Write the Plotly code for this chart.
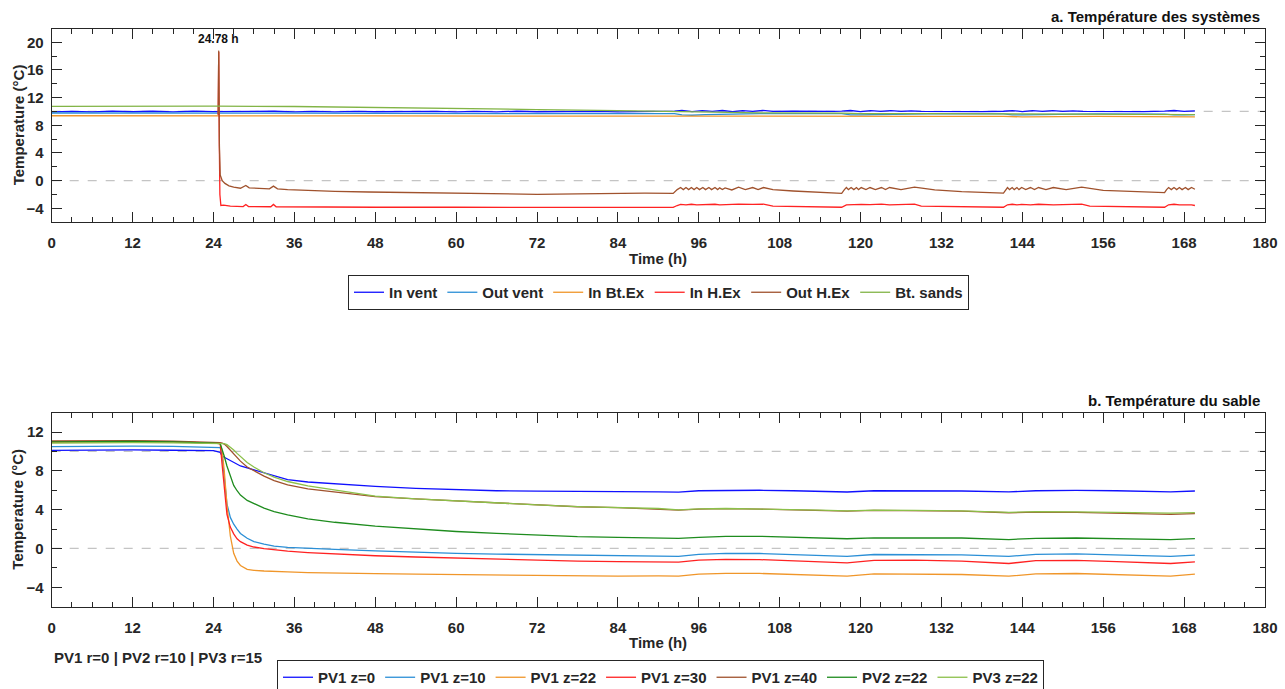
import plotly.graph_objects as go

# ---------------- Panel a: system temperatures ----------------
t_in_vent = [0, 3, 6, 9, 12, 15, 18, 21, 24, 27, 30, 33, 36, 39, 42, 45, 48, 51, 54, 57, 60, 63, 66, 69, 72, 75, 78, 81, 84, 87, 90,
             92.4, 93.5, 95, 96.5, 98, 99.5, 101, 102.5, 104, 105.5, 107,
             110, 113, 116, 117.2,
             118.5, 120, 121.5, 123, 124.5, 126, 127.5, 129,
             132, 135, 138, 141.2,
             142.5, 144, 145.5, 147, 148.5, 150, 151.5, 153,
             156, 159, 162, 165.1,
             166.5, 168, 169.6]
in_vent = [9.95, 10.02, 9.93, 10.04, 9.96, 10.03, 9.94, 10.05, 9.97, 10.0, 9.93, 10.03, 9.95, 10.01, 9.94, 10.02, 9.96, 9.99, 9.93, 10.02, 9.95, 10.0, 9.94, 10.03, 9.96, 9.99, 9.93, 10.01, 9.95, 10.0, 9.96,
           10.05, 10.15, 9.98, 10.12, 10.0, 10.14, 9.99, 10.13, 10.02, 10.15, 10.0,
           10.03, 9.98, 10.02, 10.04,
           10.14, 9.99, 10.12, 10.0, 10.13, 10.01, 10.1, 10.02,
           9.98, 10.02, 9.97, 10.03,
           10.13, 9.99, 10.12, 10.0, 10.11, 10.01, 10.1, 10.0,
           9.98, 10.02, 9.97, 10.05,
           10.14, 10.0, 10.08]

t_out_vent = [0, 12, 24, 36, 48, 60, 72, 84,
              92.4, 93.5, 95, 97, 100, 105, 110,
              117.2, 118.5, 120, 125, 130,
              141.2, 142.5, 144, 150, 155,
              165.1, 166.5, 168, 169.6]
out_vent = [9.78, 9.8, 9.78, 9.75, 9.72, 9.7, 9.7, 9.68,
            9.68, 9.5, 9.45, 9.55, 9.62, 9.68, 9.7,
            9.68, 9.52, 9.5, 9.6, 9.66,
            9.66, 9.52, 9.5, 9.62, 9.66,
            9.62, 9.5, 9.52, 9.55]

t_in_btex = [0, 12, 24, 36, 48, 60, 72, 84, 92.4, 95, 100, 110, 117.2, 120, 130, 141.2, 144, 155, 165.1, 168, 169.6]
in_btex = [9.38, 9.4, 9.38, 9.36, 9.35, 9.33, 9.32, 9.32, 9.32, 9.25, 9.3, 9.33, 9.32, 9.25, 9.3, 9.3, 9.22, 9.3, 9.28, 9.2, 9.22]

t_in_hex = [24.7, 24.78, 24.86, 24.95, 25.1, 25.5, 26.5, 28.4, 28.8, 29.2, 32.5, 32.9, 33.3, 36, 48, 60, 72, 84, 92.2,
            92.8, 93.3, 94.1, 94.9, 95.7, 96.6, 97.5, 98.4, 99.1, 99.9, 101.9, 104.0, 105.6, 107, 117.2,
            117.9, 118.6, 119.4, 120.1, 121.4, 123.1, 124.3, 128.0, 129, 141.2,
            141.8, 142.5, 143.2, 143.9, 145.2, 146.4, 148.6, 152.8, 154, 165.1,
            165.7, 166.5, 167.3, 168.2, 169.1, 169.6]
in_hex = [9.5, 18.6, 6.0, -2.0, -3.6, -3.55, -3.7, -3.75, -3.45, -3.75, -3.78, -3.45, -3.78, -3.8, -3.85, -3.85, -3.9, -3.88, -3.88,
          -3.6, -3.45, -3.5, -3.42, -3.5, -3.45, -3.5, -3.42, -3.5, -3.45, -3.4, -3.45, -3.4, -3.7, -3.85,
          -3.5, -3.45, -3.5, -3.45, -3.48, -3.4, -3.5, -3.4, -3.7, -3.85,
          -3.5, -3.42, -3.5, -3.45, -3.5, -3.42, -3.5, -3.4, -3.7, -3.85,
          -3.5, -3.42, -3.5, -3.45, -3.5, -3.6]

t_out_hex = [24.7, 24.78, 24.88, 25.0, 25.3, 25.7, 26.3, 27.0, 28.0, 28.8, 29.3, 30.5,
             32.3, 32.9, 33.5, 35, 37, 42, 47, 52, 57, 62, 67, 72, 78, 84, 88, 92.2,
             92.8, 93.3, 93.7, 94.1, 94.5, 94.9, 95.3, 95.7, 96.1, 96.6, 97.0, 97.5, 97.9, 98.4, 98.8, 99.1, 99.5, 99.9,
             100.9, 101.9, 102.9, 104.0, 104.8, 105.6, 107, 110, 113, 117.2,
             117.6, 117.9, 118.2, 118.6, 119.0, 119.4, 119.7, 120.1, 120.8, 121.4, 122.2, 123.1, 123.7, 124.3, 126, 128.0, 131, 135, 141.2,
             141.5, 141.8, 142.1, 142.5, 142.8, 143.2, 143.5, 143.9, 144.5, 145.2, 145.8, 146.4, 147.5, 148.6, 150.5, 152.8, 156, 160, 165.1,
             165.4, 165.7, 166.1, 166.5, 166.9, 167.3, 167.7, 168.2, 168.6, 169.1, 169.6]
out_hex = [9.6, 18.8, 5.0, 0.8, 0.0, -0.4, -0.75, -0.95, -1.1, -0.7, -1.05, -1.15,
           -1.2, -0.8, -1.2, -1.3, -1.4, -1.55, -1.65, -1.7, -1.72, -1.8, -1.88, -1.98, -1.92, -1.82, -1.82, -1.85,
           -1.3, -1.0, -1.3, -1.0, -1.3, -1.0, -1.3, -1.0, -1.3, -1.0, -1.3, -1.0, -1.3, -1.0, -1.3, -1.05, -1.3, -1.05,
           -1.35, -0.95, -1.3, -1.0, -1.3, -1.0, -1.3, -1.5, -1.65, -1.85,
           -1.3, -1.0, -1.3, -1.0, -1.3, -1.0, -1.3, -1.0, -1.3, -1.0, -1.3, -1.0, -1.3, -1.0, -1.3, -0.95, -1.35, -1.6, -1.8,
           -1.3, -1.0, -1.3, -1.0, -1.3, -1.0, -1.3, -1.0, -1.3, -1.0, -1.3, -1.0, -1.3, -1.0, -1.3, -0.95, -1.4, -1.6, -1.75,
           -1.3, -1.0, -1.3, -1.0, -1.3, -1.0, -1.3, -1.0, -1.3, -1.0, -1.25]

t_bt_sands = [0, 12, 24, 36, 48, 60, 72, 84, 92.4, 96, 105, 117.2, 120, 130, 141.2, 145, 155, 165.1, 169.6]
bt_sands = [10.75, 10.8, 10.78, 10.72, 10.6, 10.45, 10.28, 10.12, 10.0, 9.85, 9.8, 9.75, 9.68, 9.7, 9.66, 9.6, 9.63, 9.6, 9.55]

# ---------------- Panel b: sand temperatures ----------------
t_sand = [0, 6, 12, 18, 21, 22, 24, 25.0, 25.3, 25.6, 26.0, 26.5, 27.0, 27.5, 28.0, 29, 30, 31.5, 33, 35, 38,
          42, 48, 54, 60, 66, 72, 78, 84, 90, 93, 96, 100, 105, 110, 114, 118, 122, 128, 135, 142, 146, 152, 158, 166, 169.6]
pv1_z0 = [10.1, 10.15, 10.15, 10.12, 10.1, 10.08, 10.08, 9.9, 9.5, 9.4, 9.25, 9.05, 8.9, 8.7, 8.5, 8.3, 8.1, 7.8, 7.45, 7.1, 6.85,
          6.65, 6.4, 6.2, 6.05, 5.95, 5.9, 5.85, 5.85, 5.83, 5.8, 5.95, 6.0, 6.0, 5.95, 5.9, 5.82, 5.95, 5.95, 5.92, 5.83, 5.95, 5.98, 5.95, 5.83, 5.92]
pv1_z10 = [10.5, 10.55, 10.55, 10.52, 10.5, 10.45, 10.42, 10.4, 9.5, 7.0, 4.6, 3.2, 2.5, 2.0, 1.55, 1.05, 0.7, 0.45, 0.25, 0.12, 0.0,
           -0.1, -0.25, -0.4, -0.5, -0.58, -0.62, -0.68, -0.75, -0.78, -0.82, -0.6, -0.5, -0.52, -0.62, -0.72, -0.82, -0.62, -0.6, -0.65, -0.82, -0.6, -0.55, -0.65, -0.82, -0.68]
pv1_z22 = [10.95, 11.0, 11.0, 10.98, 10.95, 10.88, 10.85, 10.8, 10.0, 8.0, 4.5, 1.3, -0.5, -1.3, -1.75, -2.15, -2.25, -2.32, -2.38, -2.42, -2.48,
           -2.55, -2.6, -2.65, -2.7, -2.75, -2.8, -2.84, -2.84, -2.83, -2.85, -2.65, -2.57, -2.57, -2.65, -2.75, -2.85, -2.62, -2.62, -2.68, -2.85, -2.62, -2.58, -2.68, -2.85, -2.65]
pv1_z30 = [11.0, 11.05, 11.05, 11.0, 10.98, 10.9, 10.88, 10.8, 8.5, 6.0, 3.5, 2.2, 1.5, 1.0, 0.7, 0.35, 0.15, -0.02, -0.15, -0.28, -0.42,
           -0.58, -0.75, -0.88, -1.0, -1.1, -1.2, -1.3, -1.35, -1.37, -1.4, -1.2, -1.13, -1.15, -1.28, -1.4, -1.48, -1.22, -1.2, -1.3, -1.55, -1.25, -1.22, -1.35, -1.55, -1.38]
pv1_z40 = [11.08, 11.1, 11.1, 11.05, 11.0, 10.92, 10.9, 10.9, 10.85, 10.75, 10.5, 10.1, 9.7, 9.35, 9.0, 8.4, 8.0, 7.45, 7.0, 6.55, 6.15,
           5.8, 5.35, 5.1, 4.9, 4.72, 4.45, 4.3, 4.2, 4.05, 3.95, 4.05, 4.1, 4.05, 3.98, 3.92, 3.85, 3.92, 3.9, 3.85, 3.68, 3.75, 3.72, 3.65, 3.52, 3.6]
pv2_z22 = [10.98, 11.02, 11.02, 10.98, 10.95, 10.88, 10.85, 10.8, 10.0, 9.5, 8.5, 7.4, 6.5, 5.95, 5.5, 4.95, 4.6, 4.15, 3.8, 3.45, 3.05,
           2.7, 2.3, 2.0, 1.75, 1.55, 1.4, 1.22, 1.15, 1.1, 1.03, 1.15, 1.25, 1.25, 1.15, 1.08, 1.0, 1.1, 1.12, 1.08, 0.92, 1.05, 1.08, 1.02, 0.92, 1.02]
pv3_z22 = [10.85, 10.9, 10.9, 10.88, 10.85, 10.82, 10.82, 10.85, 10.85, 10.8, 10.7, 10.45, 10.15, 9.8, 9.45, 8.85, 8.4, 7.8, 7.35, 6.9, 6.45,
           6.0, 5.4, 5.1, 4.88, 4.68, 4.5, 4.32, 4.22, 4.12, 3.97, 4.07, 4.12, 4.08, 4.0, 3.95, 3.88, 3.95, 3.93, 3.88, 3.72, 3.8, 3.78, 3.72, 3.65, 3.7]

x_ticks = list(range(0, 181, 12))
ya_ticks = [-4, 0, 4, 8, 12, 16, 20]
yb_ticks = [-4, 0, 4, 8, 12]

top_names = ["In vent", "Out vent", "In Bt.Ex", "In H.Ex", "Out H.Ex", "Bt. sands"]
top_colors = ["#1010ff", "#2b8fd6", "#f0962a", "#ff2222", "#a0522d", "#82b446"]
bot_names = ["PV1 z=0", "PV1 z=10", "PV1 z=22", "PV1 z=30", "PV1 z=40", "PV2 z=22", "PV3 z=22"]
bot_colors = ["#1010ff", "#2b8fd6", "#f0962a", "#ff2222", "#a0522d", "#1e8c1e", "#8cc04a"]

FONT = "Liberation Sans, Arial, sans-serif"
INK = "#262626"
W, H = 1285, 689

fig = go.Figure()

top_series = [(t_in_vent, in_vent), (t_out_vent, out_vent), (t_in_btex, in_btex),
              (t_in_hex, in_hex), (t_out_hex, out_hex), (t_bt_sands, bt_sands)]
for (tx, vy), name, col in zip(top_series, top_names, top_colors):
    fig.add_trace(go.Scatter(x=tx, y=vy, mode="lines", name=name, line=dict(color=col, width=1.3),
                             xaxis="x", yaxis="y", legend="legend"))

bot_series = [pv1_z0, pv1_z10, pv1_z22, pv1_z30, pv1_z40, pv2_z22, pv3_z22]
for vy, name, col in zip(bot_series, bot_names, bot_colors):
    fig.add_trace(go.Scatter(x=t_sand, y=vy, mode="lines", name=name, line=dict(color=col, width=1.3),
                             xaxis="x2", yaxis="y2", legend="legend2"))

xd = [51.7 / W, 1265 / W]
yd_top = [1 - 222.1 / H, 1 - 28.5 / H]
yd_bot = [1 - 606.7 / H, 1 - 412.6 / H]

tickfont = dict(family=FONT, size=15, color=INK, weight="bold")
common_x = dict(range=[0, 180], tickvals=x_ticks, ticks="inside", ticklen=10, tickwidth=1, tickcolor=INK,
                minor=dict(dtick=3, tick0=0, ticks="inside", ticklen=5, tickcolor=INK, tickwidth=1),
                showline=True, linecolor=INK, linewidth=1, mirror="allticks", showgrid=False, zeroline=False,
                tickfont=tickfont, domain=xd, ticklabelstandoff=7, automargin=False)
common_y = dict(ticks="inside", ticklen=10, tickwidth=1, tickcolor=INK,
                minor=dict(dtick=2, tick0=0, ticks="inside", ticklen=5, tickcolor=INK, tickwidth=1),
                showline=True, linecolor=INK, linewidth=1, mirror="allticks", showgrid=False, zeroline=False,
                tickfont=tickfont, ticklabelstandoff=4, automargin=False)

legend_font = dict(family=FONT, size=15, color=INK, weight="bold")
fig.update_layout(
    width=W, height=H, margin=dict(l=0, r=0, t=0, b=0, autoexpand=False),
    paper_bgcolor="white", plot_bgcolor="white",
    font=dict(family=FONT, color=INK),
    xaxis=dict(anchor="y", **common_x),
    yaxis=dict(anchor="x", domain=yd_top, range=[-6, 22], tickvals=ya_ticks, **common_y),
    xaxis2=dict(anchor="y2", **common_x),
    yaxis2=dict(anchor="x2", domain=yd_bot, range=[-6, 14], tickvals=yb_ticks, **common_y),
    legend=dict(orientation="h", x=658.5 / W, y=1 - 292.5 / H, xanchor="center", yanchor="middle",
                bgcolor="white", bordercolor=INK, borderwidth=1,
                font=legend_font, itemwidth=30, tracegroupgap=0),
    legend2=dict(orientation="h", x=660.5 / W, y=1 - 660 / H, xanchor="center", yanchor="top",
                 bgcolor="white", bordercolor=INK, borderwidth=1,
                 font=legend_font, itemwidth=30, tracegroupgap=0),
    showlegend=True,
)

for xref, yref in [("x domain", "y"), ("x2 domain", "y2")]:
    for yv in [0, 10]:
        fig.add_shape(type="line", xref=xref, yref=yref, x0=0, x1=1, y0=yv, y1=yv,
                      line=dict(color="#c4c4c4", width=1.2, dash="dash"), layer="below")

bold15 = dict(family=FONT, size=15, color=INK, weight="bold")
title_font = dict(family=FONT, size=15, color="#111111", weight="bold")
annots = [
    dict(text="a. Température des systèmes", x=1262 / W, y=1 - 16 / H, xref="paper", yref="paper",
         xanchor="right", yanchor="middle", showarrow=False, font=title_font),
    dict(text="b. Température du sable", x=1262 / W, y=1 - 400 / H, xref="paper", yref="paper",
         xanchor="right", yanchor="middle", showarrow=False, font=title_font),
    dict(text="Temperature (°C)", x=18 / W, y=0.5, xref="paper", yref="y domain", textangle=-90,
         xanchor="center", yanchor="middle", showarrow=False, font=bold15),
    dict(text="Temperature (°C)", x=18 / W, y=0.5, xref="paper", yref="y2 domain", textangle=-90,
         xanchor="center", yanchor="middle", showarrow=False, font=bold15),
    dict(text="Time (h)", x=0.5, y=1 - 259 / H, xref="x domain", yref="paper",
         xanchor="center", yanchor="middle", showarrow=False, font=bold15),
    dict(text="Time (h)", x=0.5, y=1 - 642 / H, xref="x2 domain", yref="paper",
         xanchor="center", yanchor="middle", showarrow=False, font=bold15),
    dict(text="24.78 h", x=24.78, y=20.5, xref="x", yref="y", xanchor="center", yanchor="middle",
         showarrow=False, font=dict(family=FONT, size=12, color="#111111", weight="bold")),
    dict(text="PV1 r=0 | PV2 r=10 | PV3 r=15", x=52 / W, y=1 - 657 / H, xref="paper", yref="paper",
         xanchor="left", yanchor="middle", showarrow=False, font=bold15),
]
fig.update_layout(annotations=annots)

fig.write_html("out.html", config={"displayModeBar": False},
               post_script="document.body.style.margin='0px'; document.body.style.overflow='hidden';")
